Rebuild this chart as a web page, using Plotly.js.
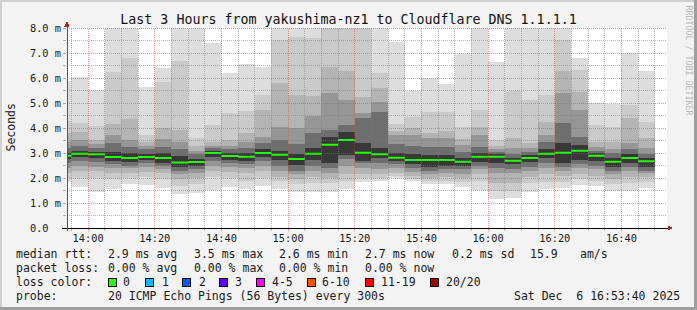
<!DOCTYPE html>
<html><head><meta charset="utf-8">
<script src="https://cdn.plot.ly/plotly-3.0.1.min.js"></script>
<style>
html,body{margin:0;padding:0;background:#f3f3f3;}
#wrap{position:relative;width:697px;height:310px;overflow:hidden;}
#chart{position:absolute;left:0;top:0;width:697px;height:310px;}
.b{position:absolute;pointer-events:none;}
.bars path{shape-rendering:crispEdges;}
.shapelayer path{shape-rendering:crispEdges;}
</style></head><body>
<div id="wrap"><div id="chart"></div>
<div class="b" style="left:0;top:0;width:697px;height:2px;background:#cfcfcf"></div>
<div class="b" style="left:0;top:0;width:2px;height:310px;background:#cfcfcf"></div>
<div class="b" style="left:0;top:307px;width:697px;height:3px;background:#9e9e9e"></div>
<div class="b" style="left:694px;top:0;width:3px;height:310px;background:#9e9e9e"></div>
</div>
<script>
const DAY = '2025-12-06 ';
const rangeStart = '2025-12-06 13:53:40';
const rangeEnd = '2025-12-06 16:53:40';
const STEP_MIN = 5;

const periodStart = ['13:50','13:55','14:00','14:05','14:10','14:15','14:20','14:25','14:30','14:35','14:40','14:45','14:50','14:55','15:00','15:05','15:10','15:15','15:20','15:25','15:30','15:35','15:40','15:45','15:50','15:55','16:00','16:05','16:10','16:15','16:20','16:25','16:30','16:35','16:40','16:45'];

// RTT in ms: outer ping pairs (max/min) down to the inner pairs near the median
const rttMax   = [5.9,6.05,5.52,9.4,8.9,5.65,6.41,10.2,9.6,7.39,6.21,6.55,6.45,11.3,9.8,10.6,12.4,13.1,11.7,9.3,7.43,5.48,6.01,5.75,6.95,8.8,6.65,9.5,10.1,8.7,9.9,6.81,4.99,4.96,6.99,6.28];
const rttHi1   = [4.3,4.19,4.08,6.25,6.79,3.72,5.85,6.68,3.6,4.12,4.59,4.68,5.32,7.52,7.65,7.61,8.4,8.9,8.5,6.19,4.15,4.45,4.63,4.63,4.05,4.72,3.52,5.48,5.12,5.32,7.52,6.32,4.12,4.05,4.92,4.25];
const rttHi2   = [3.8,3.85,3.52,4.15,4.35,3.45,3.99,3.92,3.3,3.45,3.52,3.79,4.72,5.79,5.32,5.3,6.45,6.28,5.25,5.59,3.88,3.99,3.79,3.88,3.55,4.05,3.3,3.59,3.39,4.25,6.28,5.45,3.45,3.45,4.39,3.59];
const rttHi3   = [3.45,3.52,3.35,3.72,3.52,3.3,3.55,3.45,3.1,3.3,3.3,3.45,3.65,4.05,3.99,4.5,5.39,5.12,4.59,5.05,3.72,3.72,3.59,3.59,3.32,3.72,3.15,3.2,3.2,3.72,5.39,4.72,3.25,3.15,3.39,3.19];
const rttHi4   = [3.2,3.3,3.2,3.4,3.25,3.15,3.25,3.15,2.95,3.2,3.15,3.2,3.39,3.52,3.35,3.8,3.92,4.12,4.39,4.65,3.35,3.3,3.25,3.25,3.05,3.25,3.05,2.95,3.05,3.45,4.2,3.65,3.1,2.99,3.15,2.95];
const rttHi5   = [3.0,3.08,3.05,3.05,3.0,2.98,3.0,2.9,2.78,3.1,3.0,3.0,3.15,3.1,2.95,3.2,3.65,3.85,3.39,3.2,3.0,2.95,2.92,2.92,2.8,3.0,2.95,2.8,2.92,3.15,3.39,3.32,3.0,2.8,2.95,2.8];
const rttMedian= [2.89,2.97,2.95,2.84,2.80,2.84,2.80,2.62,2.64,3.0,2.88,2.85,3.0,2.93,2.76,2.97,3.33,3.52,3.01,2.95,2.81,2.72,2.72,2.72,2.65,2.85,2.85,2.69,2.80,2.97,3.01,3.09,2.89,2.65,2.80,2.67];
const rttLo5   = [2.78,2.85,2.82,2.7,2.65,2.72,2.62,2.45,2.5,2.85,2.72,2.7,2.85,2.72,2.52,2.72,2.6,2.92,2.7,2.82,2.7,2.55,2.45,2.5,2.5,2.65,2.6,2.55,2.65,2.79,2.6,2.72,2.69,2.45,2.6,2.45];
const rttLo4   = [2.6,2.7,2.65,2.55,2.5,2.6,2.5,2.3,2.35,2.7,2.6,2.55,2.7,2.5,2.3,2.5,2.4,2.75,2.6,2.6,2.55,2.4,2.3,2.35,2.35,2.5,2.4,2.35,2.45,2.6,2.45,2.55,2.5,2.3,2.45,2.3];
const rttLo3   = [2.4,2.5,2.45,2.4,2.39,2.45,2.35,2.15,2.2,2.5,2.45,2.4,2.5,2.3,2.15,2.3,2.2,2.5,2.4,2.35,2.4,2.25,2.15,2.2,2.15,2.35,2.2,2.2,2.3,2.4,2.3,2.4,2.35,2.15,2.3,2.2];
const rttLo2   = [2.2,2.3,2.3,2.2,2.2,2.25,2.2,1.95,2.0,2.3,2.25,2.2,2.3,2.05,1.95,2.05,2.0,2.15,2.15,2.15,2.2,2.1,2.0,2.05,2.0,2.15,1.8,1.8,2.05,2.15,2.1,2.15,2.1,1.95,2.05,2.05];
const rttLo1   = [1.95,2.0,2.0,1.95,2.0,2.05,1.95,1.7,1.75,2.05,2.0,1.9,2.0,1.9,1.75,1.8,1.8,1.9,2.0,2.0,2.1,1.98,1.88,1.9,1.85,1.9,1.5,1.5,1.8,1.85,1.85,1.95,1.9,1.75,1.8,1.85];
const rttMin   = [1.85,1.65,1.45,1.56,1.76,1.72,1.59,1.35,1.39,1.52,1.63,1.56,1.68,1.56,1.43,1.45,1.45,1.55,1.85,1.89,1.99,1.88,1.76,1.76,1.63,1.52,1.15,1.19,1.45,1.55,1.61,1.72,1.68,1.47,1.47,1.61];

const xTickTimes = ['14:00','14:20','14:40','15:00','15:20','15:40','16:00','16:20','16:40'];
const yTickVals = [0,1,2,3,4,5,6,7,8];
const yTickText = ['0.0\u00a0\u00a0','1.0 m','2.0 m','3.0 m','4.0 m','5.0 m','6.0 m','7.0 m','8.0 m'];
const yMinorVals = [0.5,1.5,2.5,3.5,4.5,5.5,6.5,7.5];

const lossLabels = ['0','1','2','3','4-5','6-10','11-19','20/20'];
const lossColors = ['#26ff00','#00b8ff','#0059ff','#5e00ff','#ff00ff','#ff5500','#ff0000','#a00000'];

const MONO = 'DejaVu Sans Mono';

function addMin(hhmm, d){
  const p = hhmm.split(':').map(Number);
  const t = p[0]*60 + p[1] + d;
  return String(Math.floor(t/60)).padStart(2,'0') + ':' + String(t%60).padStart(2,'0');
}
const xs = periodStart.map(s => DAY + s + ':00');

const bands = [
  {top: rttMax, bot: rttMin, color: '#dddddd'},
  {top: rttHi1, bot: rttLo1, color: '#cacaca'},
  {top: rttHi2, bot: rttLo2, color: '#b4b4b4'},
  {top: rttHi3, bot: rttLo3, color: '#969696'},
  {top: rttHi4, bot: rttLo4, color: '#6e6e6e'},
  {top: rttHi5, bot: rttLo5, color: '#383838'}
];
const traces = bands.map(b => ({
  type: 'bar', x: xs, base: b.bot, y: b.top.map((t, i) => t - b.bot[i]),
  width: STEP_MIN*60000, offset: 0,
  marker: {color: b.color, line: {width: 0}}, hoverinfo: 'skip'
}));
const mx = [], my = [];
periodStart.forEach((s, i) => {
  mx.push(DAY + s + ':00', DAY + addMin(s, STEP_MIN) + ':00', null);
  my.push(rttMedian[i], rttMedian[i], null);
});
traces.push({type: 'scatter', mode: 'lines', x: mx, y: my, connectgaps: false,
  line: {color: lossColors[0], width: 2}, hoverinfo: 'skip'});

// plot area in pixels: x 67..667, y 28..228
const PL = 67, PW = 600, PT = 28, PH = 200;
const px = x => (x - PL) / PW;
const py = y => (PT + PH - y) / PH;

const MAJ = 'rgba(235,60,60,0.55)';
const MIN = 'rgba(125,125,125,0.55)';
const shapes = [];
for (let k = 1; k <= 16; k++) {
  const v = k * 0.5;
  shapes.push({type: 'line', layer: 'above', xref: 'paper', x0: 0, x1: 1, yref: 'y', y0: v, y1: v,
    line: {color: (k % 2 === 0) ? MAJ : MIN, width: 1, dash: '1px,1px'}});
}
const xMinor = [];
for (let t = 13*60 + 55; t <= 16*60 + 50; t += 5) {
  const hh = String(Math.floor(t/60)).padStart(2,'0') + ':' + String(t%60).padStart(2,'0');
  const major = (t % 20 === 0);
  if (!major) xMinor.push(DAY + hh + ':00');
  shapes.push({type: 'line', layer: 'above', xref: 'x', x0: DAY + hh + ':00', x1: DAY + hh + ':00', yref: 'paper', y0: 0, y1: 1,
    line: {color: major ? MAJ : MIN, width: 1, dash: '1px,1px'}});
}
// axis lines and arrows
shapes.push({type: 'line', layer: 'above', xref: 'paper', yref: 'paper', x0: px(62), x1: px(669), y0: 0, y1: 0, line: {color: '#000', width: 1}});
shapes.push({type: 'line', layer: 'above', xref: 'paper', yref: 'paper', x0: 0, x1: 0, y0: py(231), y1: py(25), line: {color: '#555', width: 1}});
shapes.push({type: 'path', layer: 'above', xref: 'paper', yref: 'paper',
  path: `M ${px(67)} ${py(21)} L ${px(64.5)} ${py(26.5)} L ${px(69.5)} ${py(26.5)} Z`, fillcolor: '#a52a2a', line: {width: 0}});
shapes.push({type: 'path', layer: 'above', xref: 'paper', yref: 'paper',
  path: `M ${px(673.5)} ${py(228)} L ${px(668)} ${py(225.5)} L ${px(668)} ${py(230.5)} Z`, fillcolor: '#a52a2a', line: {width: 0}});

// legend squares
const sqX = [108.5,145.5,182.5,219.5,256.5,307.5,365,430.5];
const labX = [123,161.7,199,235,271.7,321.7,380.7,446];
lossColors.forEach((c, i) => {
  shapes.push({type: 'rect', layer: 'above', xref: 'paper', yref: 'paper',
    x0: px(sqX[i]), x1: px(sqX[i] + 8), y0: py(286.5), y1: py(278.5),
    fillcolor: c, line: {color: '#000', width: 1}});
});

const LF = {family: MONO, size: 11.5, color: '#1a1a1a'};
const annotations = [];
function txt(x, y, s, extra) {
  annotations.push(Object.assign({xref: 'paper', yref: 'paper', x: px(x - 0.6), y: py(y), text: s,
    showarrow: false, xanchor: 'left', yanchor: 'middle', borderpad: 0, font: LF}, extra || {}));
}
const R1 = 254.3, R2 = 268, R3 = 282.3, R4 = 296;
txt(16, R1, 'median rtt:'); txt(107.3, R1, '2.9 ms avg'); txt(193.3, R1, '3.5 ms max'); txt(279, R1, '2.6 ms min');
txt(365, R1, '2.7 ms now'); txt(451.7, R1, '0.2 ms sd'); txt(530, R1, '15.9'); txt(579.3, R1, 'am/s');
txt(16, R2, 'packet loss:'); txt(107.3, R2, '0.00 % avg'); txt(193.3, R2, '0.00 % max'); txt(279, R2, '0.00 % min'); txt(365, R2, '0.00 % now');
txt(16, R3, 'loss color:');
lossLabels.forEach((l, i) => txt(labX[i], R3, l));
txt(16, R4, 'probe:'); txt(107.3, R4, '20 ICMP Echo Pings (56 Bytes) every 300s'); txt(513.3, R4, 'Sat Dec \u00a06 16:53:40 2025');

annotations.push({xref: 'paper', yref: 'paper', x: px(10.5), y: 0.5, text: 'Seconds', textangle: -90, showarrow: false,
  xanchor: 'center', yanchor: 'middle', font: {family: MONO, size: 11.5, color: '#1a1a1a'}});
annotations.push({xref: 'paper', yref: 'paper', x: px(688.5), y: py(60), text: 'RRDTOOL / TOBI OETIKER', textangle: 90, showarrow: false,
  xanchor: 'center', yanchor: 'middle', font: {family: MONO, size: 8.3, color: '#b8b8b8'}});

const layout = {
  width: 697, height: 310,
  margin: {l: 67, r: 30, t: 28, b: 82, pad: 0},
  paper_bgcolor: '#f3f3f3', plot_bgcolor: '#ffffff',
  barmode: 'overlay', bargap: 0, showlegend: false,
  font: {family: MONO, size: 10, color: '#1a1a1a'},
  title: {text: 'Last 3 Hours from yakushima-nz1 to Cloudflare DNS 1.1.1.1',
    font: {family: MONO, size: 13.3, color: '#111'},
    xref: 'container', x: 0.5, xanchor: 'center', yref: 'container', y: 1 - 19/310, yanchor: 'middle'},
  xaxis: {type: 'date', range: [rangeStart, rangeEnd], tickmode: 'array',
    tickvals: xTickTimes.map(t => DAY + t + ':00'), ticktext: xTickTimes,
    ticks: 'outside', ticklen: 2, tickcolor: MAJ, showgrid: false, zeroline: false, showline: false, fixedrange: true,
    ticklabelstandoff: -1,
    tickfont: {family: MONO, size: 10.3, color: '#1a1a1a'},
    minor: {tickmode: 'array', tickvals: xMinor, ticks: 'outside', ticklen: 2, tickcolor: MIN, showgrid: false}},
  yaxis: {range: [0, 8], tickmode: 'array', tickvals: yTickVals, ticktext: yTickText,
    ticks: 'outside', ticklen: 3, tickcolor: MAJ, showgrid: false, zeroline: false, showline: false, fixedrange: true,
    tickfont: {family: MONO, size: 10.3, color: '#1a1a1a'},
    minor: {tickmode: 'array', tickvals: yMinorVals, ticks: 'outside', ticklen: 3, tickcolor: MIN, showgrid: false}},
  shapes: shapes,
  annotations: annotations
};

Plotly.newPlot('chart', traces, layout, {staticPlot: true, displayModeBar: false});
</script>
</body></html>
